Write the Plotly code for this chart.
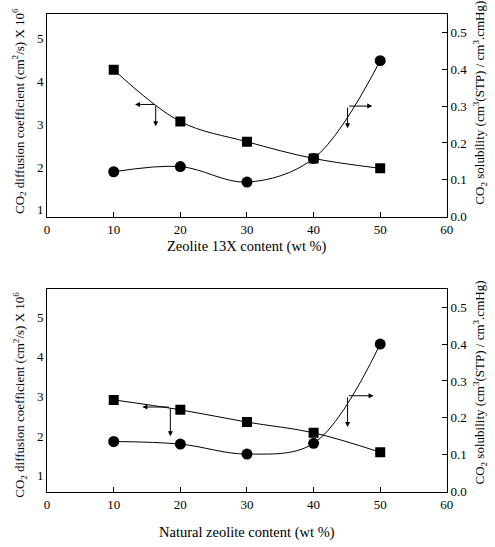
import plotly.graph_objects as go

# ---- data ----
content = [10, 20, 30, 40, 50]
x_ticks = [0, 10, 20, 30, 40, 50, 60]

# Top panel: Zeolite 13X
diff_13x = [4.27, 3.06, 2.59, 2.20, 1.97]          # CO2 diffusion coefficient x 10^6 (squares)
sol_13x = [0.122, 0.136, 0.094, 0.158, 0.423]      # CO2 solubility (circles)

# Bottom panel: Natural zeolite
diff_nat = [2.91, 2.66, 2.35, 2.08, 1.59]
sol_nat = [0.136, 0.129, 0.102, 0.131, 0.400]

left_ticks = [1, 2, 3, 4, 5]
right_ticks = [0.0, 0.1, 0.2, 0.3, 0.4, 0.5]

FONT = "Liberation Serif"
W, H = 495, 547
xl, xr = 45 / W, 453 / W
top_dom = [1 - 220 / H, 1 - 14 / H]
bot_dom = [1 - 499 / H, 1 - 293 / H]

fig = go.Figure()

line = dict(color="black", width=1, shape="spline", smoothing=1.0)

fig.add_trace(go.Scatter(x=content, y=diff_13x, mode="lines+markers", xaxis="x", yaxis="y",
                         line=line, marker=dict(symbol="square", size=10, color="black"),
                         showlegend=False))
fig.add_trace(go.Scatter(x=content, y=sol_13x, mode="lines+markers", xaxis="x", yaxis="y2",
                         line=line, marker=dict(symbol="circle", size=11, color="black"),
                         showlegend=False))
fig.add_trace(go.Scatter(x=content, y=diff_nat, mode="lines+markers", xaxis="x2", yaxis="y4",
                         line=line, marker=dict(symbol="square", size=10, color="black"),
                         showlegend=False))
fig.add_trace(go.Scatter(x=content, y=sol_nat, mode="lines+markers", xaxis="x2", yaxis="y5",
                         line=line, marker=dict(symbol="circle", size=11, color="black"),
                         showlegend=False))

tickfont = dict(family=FONT, size=13, color="black")

def xax(anchor):
    return dict(domain=[xl, xr], range=[0, 60], tickvals=x_ticks, ticks="inside", ticklen=5,
                tickcolor="black", showline=True, linecolor="black", linewidth=1, mirror=True,
                showgrid=False, zeroline=False, anchor=anchor, tickfont=tickfont,
                ticklabelstandoff=1)

def yleft(dom, rng):
    return dict(domain=dom, range=rng, tickvals=left_ticks, ticks="", showline=True,
                linecolor="black", linewidth=1, showgrid=False, zeroline=False,
                tickfont=tickfont, side="left")

def yright(overlay, rng):
    return dict(overlaying=overlay, side="right", range=rng, tickvals=right_ticks,
                tickformat=".1f", ticks="inside", ticklen=5, tickcolor="black",
                showline=True, linecolor="black", linewidth=1, showgrid=False,
                zeroline=False, tickfont=tickfont)

def yleftticks(overlay, rng):
    return dict(overlaying=overlay, side="left", range=rng, tickvals=right_ticks,
                ticks="inside", ticklen=5, tickcolor="black", showticklabels=False,
                showline=False, showgrid=False, zeroline=False)

top_left_rng = [0.839, 5.575]
bot_left_rng = [0.595, 5.713]
right_rng = [0, 0.55]

fig.update_layout(
    width=W, height=H, margin=dict(l=0, r=0, t=0, b=0),
    paper_bgcolor="white", plot_bgcolor="white",
    font=dict(family=FONT, color="black"),
    xaxis=xax("y"), yaxis=yleft(top_dom, top_left_rng),
    yaxis2=yright("y", right_rng), yaxis3=yleftticks("y", right_rng),
    xaxis2=xax("y4"), yaxis4=yleft(bot_dom, bot_left_rng),
    yaxis5=yright("y4", right_rng), yaxis6=yleftticks("y4", right_rng),
)
fig.layout.yaxis2.anchor = "x"
fig.layout.yaxis3.anchor = "x"
fig.layout.yaxis5.anchor = "x2"
fig.layout.yaxis6.anchor = "x2"

ann = []
title_font = dict(family=FONT, size=14.5, color="black")
ytitle_font = dict(family=FONT, size=13, color="black")
ann.append(dict(text="Zeolite 13X content (wt %)", x=(45 + 453) / 2 / W, y=1 - 250 / H,
                xref="paper", yref="paper", showarrow=False, font=title_font,
                xanchor="center", yanchor="middle"))
ann.append(dict(text="Natural zeolite content (wt %)", x=(45 + 453) / 2 / W, y=1 - 540 / H,
                xref="paper", yref="paper", showarrow=False, font=title_font,
                xanchor="center", yanchor="middle"))
left_title = "CO<sub>2</sub> diffusion coefficient (cm<sup>2</sup>/s) X 10<sup>6</sup>"
right_title = "CO<sub>2</sub> solubility (cm<sup>3</sup>(STP) / cm<sup>3</sup>.cmHg)"
for yc_l, yc_r in [(113, 104), (401, 388)]:
    ann.append(dict(text=left_title, x=17 / W, y=1 - yc_l / H, xref="paper", yref="paper",
                    showarrow=False, textangle=-90, font=ytitle_font,
                    xanchor="center", yanchor="middle"))
    ann.append(dict(text=right_title, x=487 / W, y=1 - yc_r / H, xref="paper", yref="paper",
                    showarrow=False, textangle=-90, font=ytitle_font,
                    xanchor="center", yanchor="middle"))

def arrow(xref, yref, x0, y0, x1, y1):
    return dict(x=x1, y=y1, ax=x0, ay=y0, xref=xref, yref=yref, axref=xref, ayref=yref,
                text="", showarrow=True, arrowhead=2, arrowsize=1, arrowwidth=1,
                arrowcolor="black")

# top: squares -> left axis, circles -> right axis
ann.append(arrow("x", "y", 16.3, 3.46, 13.2, 3.46))
ann.append(arrow("x", "y", 16.3, 3.46, 16.3, 2.95))
ann.append(arrow("x", "y2", 45.1, 0.30, 48.8, 0.30))
ann.append(arrow("x", "y2", 45.1, 0.30, 45.1, 0.24))
# bottom
ann.append(arrow("x2", "y4", 18.5, 2.73, 14.3, 2.73))
ann.append(arrow("x2", "y4", 18.5, 2.73, 18.5, 1.99))
ann.append(arrow("x2", "y5", 45.1, 0.26, 49.0, 0.26))
ann.append(arrow("x2", "y5", 45.1, 0.26, 45.1, 0.175))

fig.update_layout(annotations=ann)
fig.write_html("out.html", config={"displayModeBar": False},
               post_script="document.body.style.margin='0';")
